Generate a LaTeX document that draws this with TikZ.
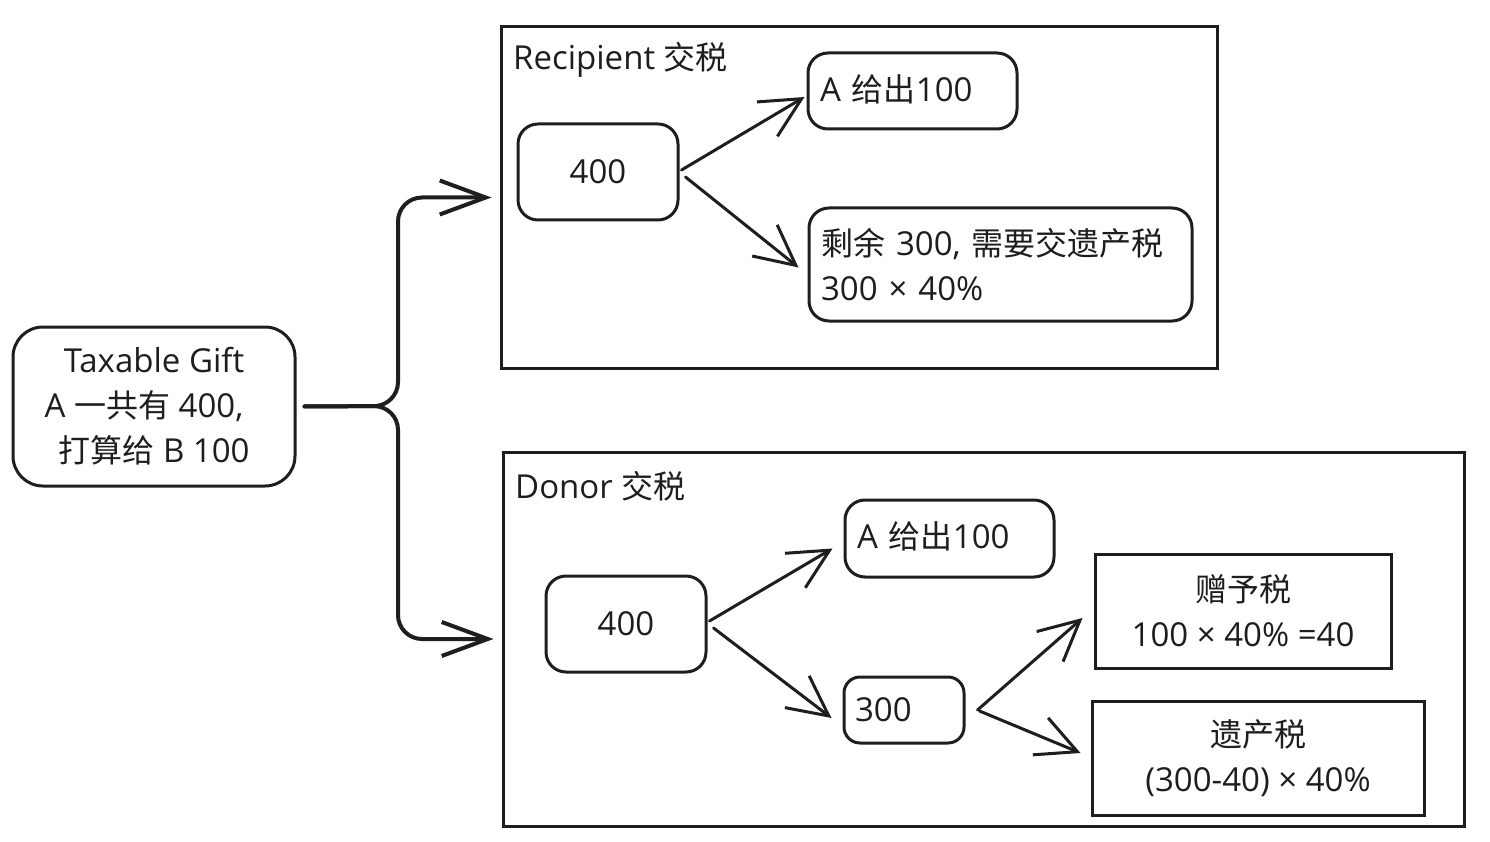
\documentclass[tikz,border=0pt]{standalone}
\usepackage{fontspec}
\setmainfont{Open Sans}
\newfontfamily\cjk[Scale=0.97]{Noto Sans CJK SC}
\newcommand\zh[1]{{\cjk #1}}
\usetikzlibrary{arrows.meta}
\definecolor{ink}{HTML}{1E1E1E}
\begin{document}
\begin{tikzpicture}[x=1pt,y=-1pt,
  every node/.style={font=\fontsize{33}{45}\selectfont, text=ink},
  frame/.style={draw=ink, line width=3pt, inner sep=0pt},
  rbox/.style={draw=ink, line width=3pt, rounded corners=20pt, inner sep=0pt},
  sbox/.style={draw=ink, line width=3pt, inner sep=0pt, align=center},
  lbl/.style={inner sep=0pt, anchor=west},
  arr/.style={draw=ink, line width=3pt, line cap=round, line join=round,
    -{Straight Barb[length=40pt,width=40pt,line width=3pt]}},
  brarr/.style={draw=ink, line width=4pt, line cap=round, line join=round, rounded corners=24pt,
    -{Straight Barb[length=46pt,width=34pt,line width=4pt]}}
]
\useasboundingbox (0,0) rectangle (1490,842);
\fill[white] (0,0) rectangle (1490,842);

% root
\node[rbox, rounded corners=30pt, minimum width=282pt, minimum height=159pt, align=center] (gift) at (154,406.5)
  {Taxable Gift\\A \zh{一共有} 400,\hspace*{20pt}\mbox{}\\\zh{打算给} B 100};

% frames
\node[frame, minimum width=716pt, minimum height=341pt] (R) at (859,197.5) {};
\node[frame, minimum width=961pt, minimum height=374pt] (D) at (983.5,639) {};
\node[lbl] (Rl) at (513,60) {Recipient \zh{交税}};
\node[lbl] (Dl) at (515,486) {Donor \zh{交税}};

% recipient
\node[rbox, minimum width=160pt, minimum height=96pt] (R400) at (598,172) {400};
\node[rbox, minimum width=209pt, minimum height=76pt, text width=185pt, align=left] (RA) at (912.5,91)
  {\raisebox{6pt}{A \zh{给出}100}};
\node[rbox, minimum width=383pt, minimum height=113pt, text width=359pt, align=left] (RB) at (1000.5,264.5)
  {\mbox{\zh{剩余} 300, \zh{需要交遗产税}}\\300 × 40\%};

% donor
\node[rbox, minimum width=160pt, minimum height=96pt] (D400) at (626,624) {400};
\node[rbox, minimum width=209pt, minimum height=77pt, text width=185pt, align=left] (DA) at (949.5,538.5)
  {\raisebox{6pt}{A \zh{给出}100}};
\node[rbox, rounded corners=16pt, minimum width=120pt, minimum height=66pt, text width=98pt, align=left] (D300) at (904,710) {300};
\node[sbox, minimum width=296pt, minimum height=114pt] (GT) at (1243,611) {\zh{赠予税}\\100 × 40\% =40};
\node[sbox, minimum width=332pt, minimum height=114pt] (ET) at (1258,758) {\zh{遗产税}\\(300-40) × 40\%};

% brace
\coordinate (bx) at (398,406);
\draw[brarr, shorten <=8pt, shorten >=8pt] (gift.east) -- (bx) |- (R.west);
\draw[brarr, shorten <=8pt, shorten >=8pt] (gift.east) -- (bx) |- (D.west);

% arrows
\draw[arr] ([shift={(2,-2)}]R400.east) -- ([shift={(-2,6)}]RA.west);
\draw[arr] ([shift={(6,5)}]R400.east) -- ([shift={(-9,3)}]RB.west);
\draw[arr] ([shift={(2,-3)}]D400.east) -- ([shift={(-11,10)}]DA.west);
\draw[arr] ([shift={(6,4)}]D400.east) -- ([shift={(-11,8)}]D300.west);
\draw[arr] ([shift={(12,0)}]D300.east) -- ([shift={(-11,7)}]GT.west);
\draw[arr] ([shift={(14,1)}]D300.east) -- ([shift={(-10,-5)}]ET.west);
\end{tikzpicture}
\end{document}
